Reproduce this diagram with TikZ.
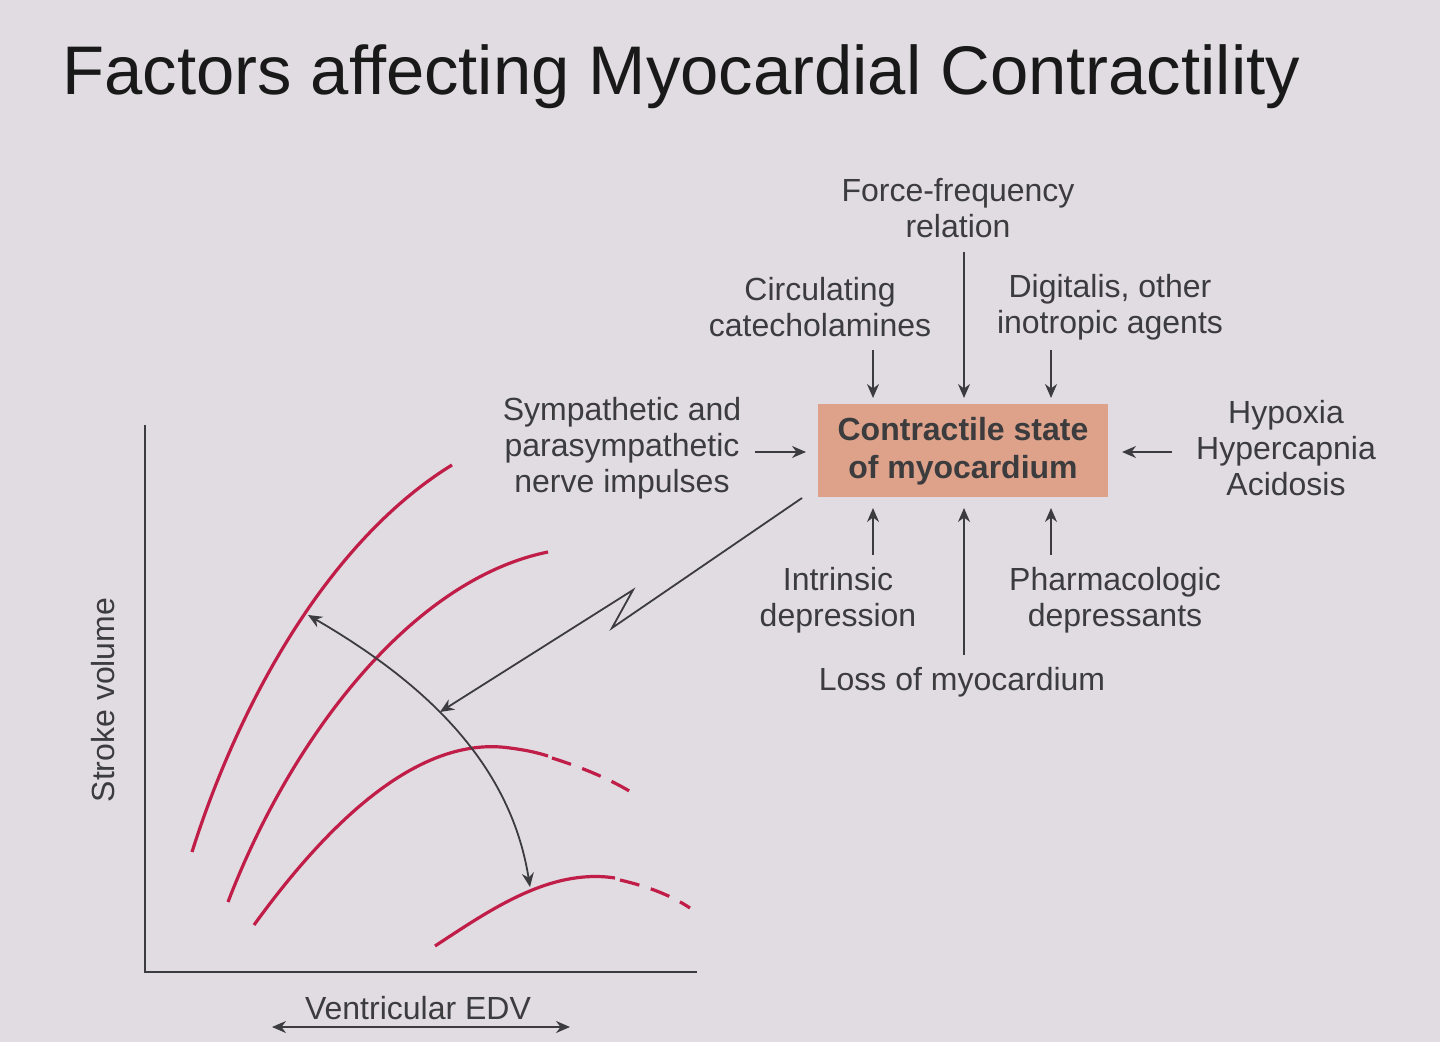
\documentclass[tikz,border=0pt]{standalone}
\usepackage{fontspec}
\setmainfont{Liberation Sans}
\usetikzlibrary{arrows.meta}
\definecolor{bg}{RGB}{224,220,226}
\definecolor{boxc}{RGB}{222,162,138}
\definecolor{curve}{RGB}{192,30,72}
\definecolor{txt}{RGB}{60,60,62}
\tikzset{
 lbl/.style={text=txt,font=\fontsize{16}{18}\selectfont,align=center,inner sep=0pt},
 arr/.style={draw=txt,line width=0.9pt,-{Stealth[length=7pt,width=6pt]}},
 crv/.style={draw=curve,line width=1.6pt},
 axis/.style={draw=txt,line width=1.4pt}
}
\begin{document}
\begin{tikzpicture}[x=0.5pt,y=-0.5pt]
\fill[bg] (0,0) rectangle (1440,1042);
\useasboundingbox (0,0) rectangle (1440,1042);
\node[anchor=west,inner sep=0pt,font=\fontsize{34.4}{40}\selectfont,text=black!90] (title) at (62,77) {Factors affecting Myocardial Contractility};
\node[fill=boxc,minimum width=145pt,minimum height=46.5pt,inner sep=0pt,align=center,text=txt,font=\bfseries\fontsize{16}{19}\selectfont] (box) at (963,451) {Contractile state\\of myocardium};
\node[lbl] (ff) at (958,208) {Force-frequency\\relation};
\node[lbl] (cc) at (820,307) {Circulating\\catecholamines};
\node[lbl] (dg) at (1110,307) {Digitalis, other\\inotropic agents};
\node[lbl] (sy) at (622,448) {Sympathetic and\\parasympathetic\\nerve impulses};
\node[lbl] (hy) at (1286,448) {Hypoxia\\Hypercapnia\\Acidosis};
\node[lbl] (id) at (838,600) {Intrinsic\\depression};
\node[lbl] (pd) at (1115,600) {Pharmacologic\\depressants};
\node[lbl] (lm) at (962,682) {Loss of myocardium};
\coordinate (a1) at (873,350); \coordinate (b1) at (873,398);
\coordinate (a2) at (964,252); \coordinate (b2) at (964,398);
\coordinate (a3) at (1051,350); \coordinate (b3) at (1051,398);
\coordinate (a4) at (755,452); \coordinate (b4) at (806,452);
\coordinate (a5) at (1172,452); \coordinate (b5) at (1122,452);
\coordinate (a6) at (873,555); \coordinate (b6) at (873,508);
\coordinate (a7) at (964,655); \coordinate (b7) at (964,508);
\coordinate (a8) at (1051,555); \coordinate (b8) at (1051,508);
\foreach \i in {1,...,8} \draw[arr] (a\i) -- (b\i);
% axes
\coordinate (o) at (145,972);
\draw[axis] (145,425) -- (o) -- (697,972);
\node[lbl,rotate=90] (sv) at (103,700) {Stroke volume};
\node[lbl] (ev) at (418,1008) {Ventricular EDV};
\coordinate (e1) at (272,1027); \coordinate (e2) at (570,1027);
\draw[arr,{Stealth[length=7pt,width=6pt]}-{Stealth[length=7pt,width=6pt]}] (e1) -- (e2);
% curves
\draw[crv] (192,852) .. controls (240,700) and (330,540) .. (452,465);
\draw[crv] (228,902) .. controls (290,740) and (410,580) .. (548,552);
\draw[crv] (254,925) .. controls (330,820) and (420,735) .. (510,748) .. controls (525,750) and (535,752) .. (548,756);
\draw[crv,dash pattern=on 10pt off 6pt] (552,758) .. controls (590,770) and (615,782) .. (636,795);
\draw[crv] (435,946) .. controls (490,910) and (550,868) .. (615,878);
\draw[crv,dash pattern=on 10pt off 6pt] (620,880) .. controls (650,887) and (672,896) .. (690,908);
% arc arrow
\coordinate (c1) at (308,615); \coordinate (c2) at (530,887);
\draw[arr,{Stealth[length=7pt,width=6pt]}-{Stealth[length=7pt,width=6pt]}] (c1) .. controls (420,680) and (510,760) .. (c2);
% lightning
\coordinate (l0) at (802,498); \coordinate (l1) at (612,628); \coordinate (l2) at (633,590); \coordinate (l3) at (440,712);
\draw[arr] (l0) -- (l1) -- (l2) -- (l3);
\end{tikzpicture}
\end{document}
